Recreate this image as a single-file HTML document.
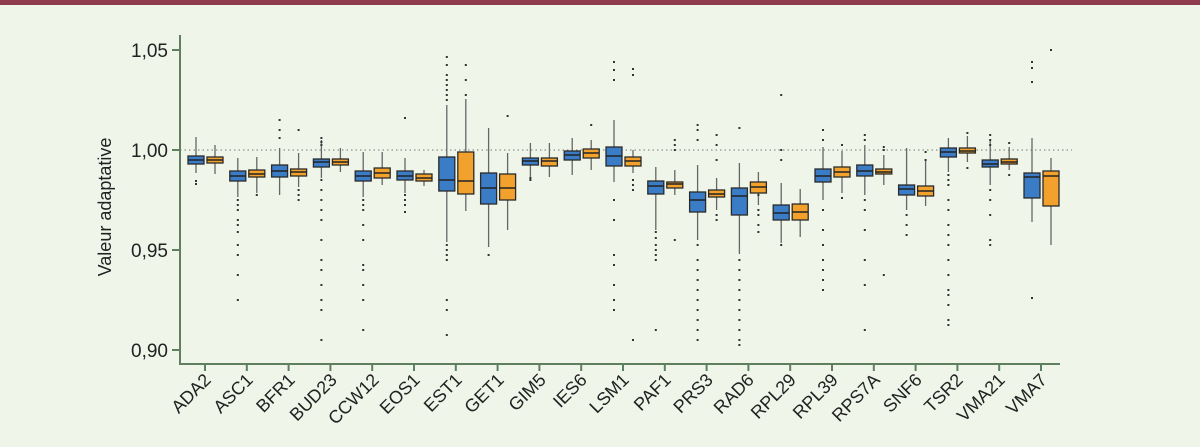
<!DOCTYPE html>
<html><head><meta charset="utf-8"><style>
html,body{margin:0;padding:0;background:#eff6e9;}
svg{display:block;font-family:"Liberation Sans",sans-serif;}
</style></head><body>
<svg width="1200" height="447" viewBox="0 0 1200 447" xmlns="http://www.w3.org/2000/svg">
<rect width="1200" height="447" fill="#eff6e9"/>
<rect width="1200" height="5" fill="#8e3c4c"/>
<line x1="180" y1="150" x2="1072" y2="150" stroke="#777" stroke-width="1" stroke-dasharray="1.5,3"/>
<g stroke="#5f7f5f" stroke-width="2" fill="none">
<path d="M180 35 V364 H1060"/>
<path d="M172 50H180M172 150H180M172 250H180M172 350H180"/>
</g>
<g font-size="19" fill="#222" text-anchor="end">
<text x="168" y="57">1,05</text><text x="168" y="157">1,00</text><text x="168" y="257">0,95</text><text x="168" y="357">0,90</text>
</g>
<text transform="translate(111,207) rotate(-90)" font-size="18" fill="#222" text-anchor="middle">Valeur adaptative</text>
<g id="ticks" stroke="#5f7f5f" stroke-width="2"></g>
<g id="plot"></g>
<g font-size="18" fill="#222" text-anchor="end">
<text transform="translate(212,381) rotate(-45)">ADA2</text>
<text transform="translate(254,381) rotate(-45)">ASC1</text>
<text transform="translate(296,381) rotate(-45)">BFR1</text>
<text transform="translate(338,381) rotate(-45)">BUD23</text>
<text transform="translate(380,381) rotate(-45)">CCW12</text>
<text transform="translate(421,381) rotate(-45)">EOS1</text>
<text transform="translate(463,381) rotate(-45)">EST1</text>
<text transform="translate(505,381) rotate(-45)">GET1</text>
<text transform="translate(547,381) rotate(-45)">GIM5</text>
<text transform="translate(588,381) rotate(-45)">IES6</text>
<text transform="translate(630,381) rotate(-45)">LSM1</text>
<text transform="translate(672,381) rotate(-45)">PAF1</text>
<text transform="translate(714,381) rotate(-45)">PRS3</text>
<text transform="translate(755,381) rotate(-45)">RAD6</text>
<text transform="translate(797,381) rotate(-45)">RPL29</text>
<text transform="translate(839,381) rotate(-45)">RPL39</text>
<text transform="translate(881,381) rotate(-45)">RPS7A</text>
<text transform="translate(923,381) rotate(-45)">SNF6</text>
<text transform="translate(964,381) rotate(-45)">TSR2</text>
<text transform="translate(1006,381) rotate(-45)">VMA21</text>
<text transform="translate(1048,381) rotate(-45)">VMA7</text>
</g>
<script>
var D=[
[[137,156,160,164,173,[181,184]],[145,157,160,163,174,[]]],
[[158,171,176,181,197,[200,205,210,220,225,232,245,255,275,300]],[157,170,174,177,193,[195]]],
[[148,165,171,177,195,[120,130,138]],[153,169,172,176,187,[130,190,195,200]]],
[[140,159,162,167,178,[138,142,145,180,190,200,210,220,240,260,270,285,300,310,340]],[148,159,162,165,172,[]]],
[[152,171,176,181,197,[200,205,210,225,240,265,270,285,300,330]],[152,168,173,178,185,[]]],
[[158,171,176,180,193,[118,195,200,205,212]],[170,174,178,181,186,[]]],
[[105,157,180,191,242,[57,65,75,80,85,90,95,100,245,250,255,260,300,310,335]],[99,152,181,194,211,[65,80,95]]],
[[128,173,188,204,247,[255]],[153,174,188,200,230,[116]]],
[[143,158,161,165,177,[178,180]],[143,158,161,166,177,[]]],
[[138,151,155,160,175,[]],[140,149,153,158,170,[125]]],
[[120,147,156,166,182,[62,70,80,200,220,255,265,285,300,310]],[150,157,161,166,173,[69,75,180,185,190,340]]],
[[167,181,186,194,230,[232,238,245,250,255,260,330]],[170,182,184,188,195,[140,145,150,240]]],
[[165,192,200,212,240,[125,130,140,245,260,270,280,290,300,310,320,330,340]],[178,190,194,197,210,[135,145,160,215,220]]],
[[163,188,196,215,254,[128,260,270,280,290,300,310,320,330,340,345]],[172,182,187,193,205,[195,210,215,225,232]]],
[[183,205,213,220,243,[95,150,160,245]],[189,204,212,220,237,[]]],
[[147,169,176,182,200,[130,140,210,230,245,260,270,280,290]],[151,167,172,177,193,[145,198]]],
[[145,165,171,176,195,[135,140,200,210,230,260,285,330]],[155,169,172,174,185,[147,150,275]]],
[[148,185,189,195,210,[215,225,235]],[160,186,191,196,206,[152,160]]],
[[138,148,152,157,172,[175,180,185,200,210,225,235,245,260,275,290,295,305,320,325]],[136,148,151,153,162,[133,168]]],
[[140,160,164,167,185,[135,140,145,190,200,215,240,245]],[147,159,162,164,170,[143,175]]],
[[138,173,177,198,222,[62,68,82,298]],[158,171,176,206,245,[50]]]
];
var ns="http://www.w3.org/2000/svg",P=document.getElementById("plot"),T=document.getElementById("ticks");
function el(n,a,p){var e=document.createElementNS(ns,n);for(var k in a)e.setAttribute(k,a[k]);p.appendChild(e);return e;}
D.forEach(function(g,i){var t=205+41.8*i;
el("line",{x1:t,y1:364,x2:t,y2:371},T);
g.forEach(function(b,j){var x=j?t+2:t-17,c=x+8,col=j?"#f2a22c":"#3a7cc6";
el("line",{x1:c,y1:b[0],x2:c,y2:b[4],stroke:"#666","stroke-width":1.3},P);
el("rect",{x:x,y:b[1],width:16,height:b[3]-b[1],fill:col,stroke:"#2a2a2a","stroke-width":1.3},P);
el("line",{x1:x,y1:b[2],x2:x+16,y2:b[2],stroke:"#222","stroke-width":1.5},P);
b[5].forEach(function(o){el("rect",{x:c-1,y:o-1,width:2,height:2,fill:"#333"},P);});
});});
</script>
</svg>
</body></html>
